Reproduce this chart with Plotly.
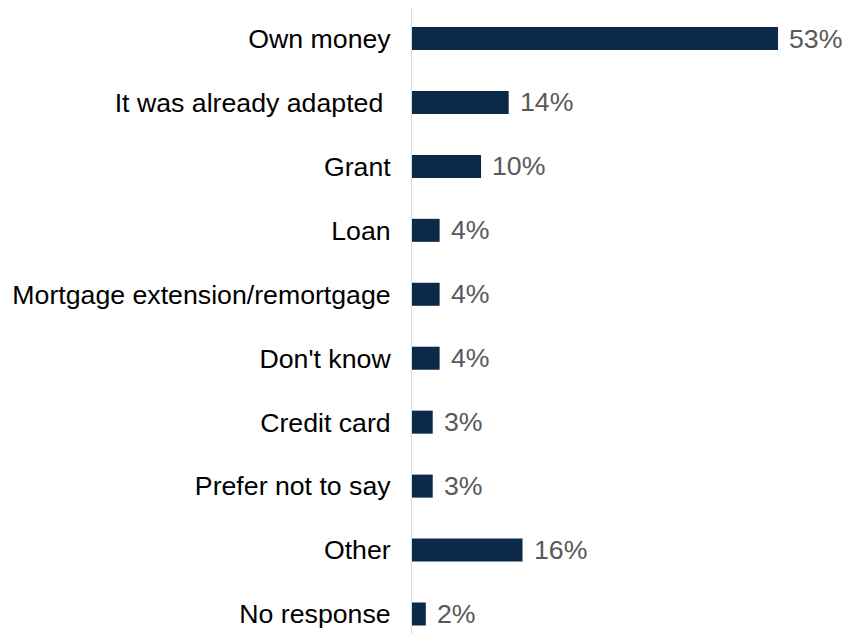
import plotly.graph_objects as go

categories = ["Own money", "It was already adapted\u00a0", "Grant", "Loan",
              "Mortgage extension/remortgage", "Don't know", "Credit card",
              "Prefer not to say", "Other", "No response"]
values = [53, 14, 10, 4, 4, 4, 3, 3, 16, 2]
value_labels = [f"{v}%" for v in values]

FONT = "Liberation Sans, Arial, sans-serif"
FS = 26.7

fig = go.Figure()
fig.add_trace(go.Bar(
    x=values, y=categories, orientation="h",
    marker=dict(color="#0b2a48", line=dict(width=0)),
    width=0.36, hoverinfo="skip",
))
for c, v, t in zip(categories, values, value_labels):
    fig.add_annotation(x=v, y=c, text=t, showarrow=False, xanchor="left",
                       yanchor="middle", xshift=9,
                       font=dict(family=FONT, size=FS, color="#595959"))

fig.update_layout(
    template="none",
    width=850, height=634,
    margin=dict(l=404, r=0, t=0, b=0, autoexpand=False),
    plot_bgcolor="white", paper_bgcolor="white",
    showlegend=False,
    font=dict(family=FONT, size=FS, color="#000000"),
    xaxis=dict(range=[0, 64.58], visible=False, fixedrange=True, automargin=False),
    yaxis=dict(type="category", range=[9.438, -0.477], showline=True, linecolor="#d9d9d9",
               linewidth=1, showgrid=False, zeroline=False, ticks="", ticklabelstandoff=15,
               automargin=False,
               tickfont=dict(family=FONT, size=FS, color="#000000")),
)
fig.write_html("out.html")
